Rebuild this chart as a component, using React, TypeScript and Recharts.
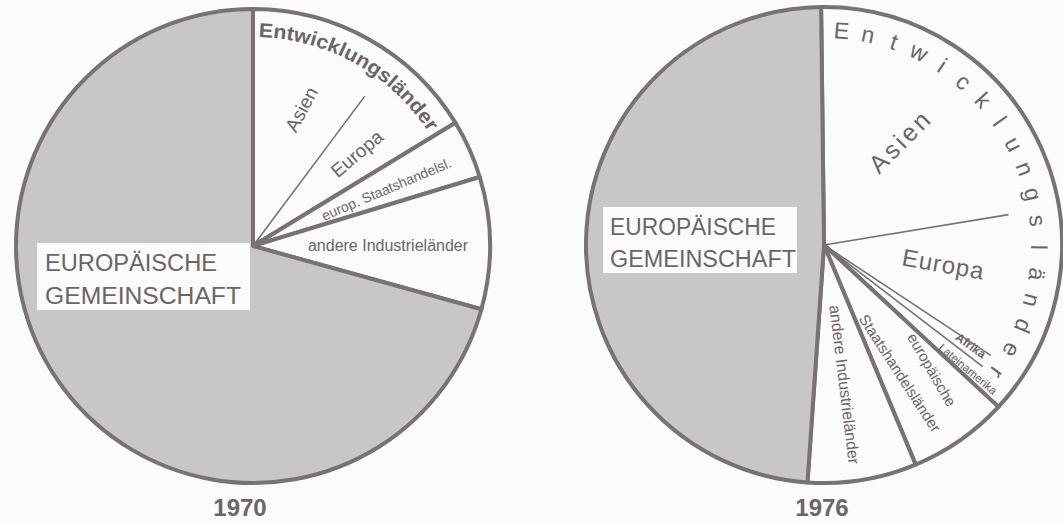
import React from "react";
import { PieChart, Pie, Cell } from "recharts";

// ---------- data ----------
const groupNames = ["Entwicklungsländer", "europ. Staatshandelsländer", "andere Industrieländer", "Europäische Gemeinschaft"];
const groups1970 = [16.3, 4.0, 9.0, 70.7];
const groups1976 = [37.1, 6.8, 7.4, 48.7];

const subNames1970 = ["Asien", "Europa", "übrige"];
const sub1970 = [10.2, 6.1, 83.7];
const subNames1976 = ["Asien", "Europa", "Afrika", "Lateinamerika", "übrige"];
const sub1976 = [22.6, 11.9, 1.1, 1.5, 62.9];

const years = ["1970", "1976"];
const egLabel = ["EUROPÄISCHE", "GEMEINSCHAFT"];
const entwLabel = "Entwicklungsländer";
const staatLabel1970 = ["europ. Staatshandelsl."];
const staatLabel1976 = ["europäische", "Staatshandelsländer"];
const andereLabel = "andere Industrieländer";

// ---------- styles ----------
const INK = "#6b6565";
const LINE = "#787272";
const GRAY = "#c8c7c5";
const PAPER = "#fbfbfb";
const FONT = "'Liberation Sans', Arial, sans-serif";
const RAD = Math.PI / 180;
const pt = (cx: number, cy: number, r: number, a: number) => [cx + r * Math.cos(a * RAD), cy - r * Math.sin(a * RAD)];

const toData = (names: string[], vals: number[]) => names.map((name, i) => ({ name, value: vals[i] }));
const data1970 = toData(groupNames, groups1970);
const data1976 = toData(groupNames, groups1976);
const subData1970 = toData(subNames1970, sub1970);
const subData1976 = toData(subNames1976, sub1976);
const groupFills = [PAPER, PAPER, PAPER, GRAY];

function RText({ x, y, rot, size, weight = 400, spacing = 0, children }: any) {
  return (
    <text
      x={x}
      y={y}
      transform={`rotate(${rot} ${x} ${y})`}
      textAnchor="middle"
      dominantBaseline="central"
      fontSize={size}
      fontWeight={weight}
      letterSpacing={spacing}
      fill={INK}
      fontFamily={FONT}
    >
      {children}
    </text>
  );
}

function EGBox({ cx, cy, box, base1, base2, textX, w1, w2, year, yearDx, yearDy }: any) {
  return (
    <g>
      <rect x={cx + box[0]} y={cy + box[1]} width={box[2]} height={box[3]} fill={PAPER} />
      <text x={cx + textX} y={cy + base1} fontSize={23} fill={INK} fontFamily={FONT} textLength={w1} lengthAdjust="spacingAndGlyphs">
        {egLabel[0]}
      </text>
      <text x={cx + textX} y={cy + base2} fontSize={23} fill={INK} fontFamily={FONT} textLength={w2} lengthAdjust="spacingAndGlyphs">
        {egLabel[1]}
      </text>
      <text x={cx + yearDx} y={cy + yearDy} textAnchor="middle" fontSize={24} fontWeight={700} fill={INK} fontFamily={FONT}>
        {year}
      </text>
    </g>
  );
}

// ---------- 1970 labels ----------
const main1970Label = (p: any) => {
  const { cx, cy, midAngle, startAngle, endAngle, index } = p;
  if (index === 0) {
    const r = 209;
    const a0 = startAngle - 1.5;
    const a1 = endAngle + 1.7;
    const [x0, y0] = pt(cx, cy, r, a0);
    const [x1, y1] = pt(cx, cy, r, a1);
    const len = r * (a0 - a1) * RAD;
    return (
      <g>
        <defs>
          <path id="entw1970" d={`M ${x0} ${y0} A ${r} ${r} 0 0 1 ${x1} ${y1}`} fill="none" />
        </defs>
        <text fontSize={20} fontWeight={700} fill={INK} fontFamily={FONT}>
          <textPath href="#entw1970" textLength={len} lengthAdjust="spacingAndGlyphs">
            {entwLabel}
          </textPath>
        </text>
      </g>
    );
  }
  if (index === 1) {
    const [x, y] = pt(cx, cy, 145, midAngle - 1);
    return <RText x={x} y={y} rot={-23} size={14}>{staatLabel1970[0]}</RText>;
  }
  if (index === 2) {
    const [x, y] = pt(cx, cy, 135, midAngle - 0.7);
    return <RText x={x} y={y} rot={0} size={16}>{andereLabel}</RText>;
  }
  return (
    <EGBox cx={cx} cy={cy} box={[-216, -3, 213, 67]} base1={25} base2={58} textX={-208} w1={172} w2={196}
      year={years[0]} yearDx={-13} yearDy={270} />
  );
};

const sub1970Style: any = {
  Asien: { r: 145, da: -1.2, rot: -62, size: 19 },
  Europa: { r: 139, da: -0.7, rot: -40, size: 19, line: 187 },
};

const makeSubLabel = (styles: any) => (p: any) => {
  const { cx, cy, midAngle, startAngle, name } = p;
  const s = styles[name];
  if (!s) return <g />;
  const [x, y] = pt(cx, cy, s.r, midAngle + s.da);
  let line = null;
  if (s.line) {
    const [lx, ly] = pt(cx, cy, s.line, startAngle);
    line = <line x1={cx} y1={cy} x2={lx} y2={ly} stroke={LINE} strokeWidth={1.6} />;
  }
  return (
    <g>
      {line}
      <RText x={x} y={y} rot={s.rot} size={s.size} weight={s.weight || 400} spacing={s.spacing || 0}>
        {name}
      </RText>
    </g>
  );
};

// ---------- 1976 labels ----------
const main1976Label = (p: any) => {
  const { cx, cy, midAngle, startAngle, endAngle, index } = p;
  if (index === 0) {
    const r = 215;
    const a0 = startAngle - 5.4;
    const a1 = endAngle + 6.4;
    const letters = entwLabel.split("");
    const step = (a0 - a1) / (letters.length - 1);
    return (
      <g>
        {letters.map((ch, i) => {
          const a = a0 - i * step;
          const [x, y] = pt(cx, cy, r, a);
          return (
            <RText key={i} x={x} y={y} rot={90 - a} size={23}>
              {ch}
            </RText>
          );
        })}
      </g>
    );
  }
  if (index === 1) {
    const [x1, y1] = pt(cx, cy, 165, midAngle + 6.0);
    const [x2, y2] = pt(cx, cy, 149, midAngle - 4.2);
    return (
      <g>
        <RText x={x1} y={y1} rot={60} size={15}>{staatLabel1976[0]}</RText>
        <RText x={x2} y={y2} rot={57} size={15}>{staatLabel1976[1]}</RText>
      </g>
    );
  }
  if (index === 2) {
    const [x, y] = pt(cx, cy, 141, midAngle - 1);
    return <RText x={x} y={y} rot={83} size={16}>{andereLabel}</RText>;
  }
  return (
    <EGBox cx={cx} cy={cy} box={[-221, -38, 194, 66]} base1={-10} base2={22} textX={-214} w1={166} w2={186}
      year={years[1]} yearDx={-2} yearDy={271} />
  );
};

const sub1976Style: any = {
  Asien: { r: 129, da: 3.8, rot: -45, size: 25, spacing: 3 },
  Europa: { r: 121, da: 3, rot: 10, size: 24, spacing: 1, line: 187 },
  Afrika: { r: 178, da: 1, rot: 36, size: 12, weight: 700, line: 200 },
  Lateinamerika: { r: 190, da: -0.6, rot: 40, size: 11.5, line: 200 },
};

export default function App() {
  return (
    <div style={{ position: "absolute", left: 0, top: 0, width: 1063, height: 523, background: PAPER }}>
      <PieChart width={1063} height={523} margin={{ top: 0, right: 0, bottom: 0, left: 0 }}>
        <Pie
          data={data1970}
          dataKey="value"
          nameKey="name"
          cx={253}
          cy={246}
          outerRadius={237}
          startAngle={90}
          endAngle={-270}
          stroke={LINE}
          strokeWidth={4}
          strokeLinejoin="round"
          isAnimationActive={false}
          label={main1970Label}
          labelLine={false}
        >
          {data1970.map((d, i) => (
            <Cell key={d.name} fill={groupFills[i]} />
          ))}
        </Pie>
        <Pie
          data={subData1970}
          dataKey="value"
          nameKey="name"
          cx={253}
          cy={246}
          outerRadius={237}
          startAngle={90}
          endAngle={-270}
          fill="transparent"
          stroke="none"
          isAnimationActive={false}
          label={makeSubLabel(sub1970Style)}
          labelLine={false}
        />
        <Pie
          data={data1976}
          dataKey="value"
          nameKey="name"
          cx={824}
          cy={245}
          outerRadius={238}
          startAngle={90.7}
          endAngle={-269.3}
          stroke={LINE}
          strokeWidth={4}
          strokeLinejoin="round"
          isAnimationActive={false}
          label={main1976Label}
          labelLine={false}
        >
          {data1976.map((d, i) => (
            <Cell key={d.name} fill={groupFills[i]} />
          ))}
        </Pie>
        <Pie
          data={subData1976}
          dataKey="value"
          nameKey="name"
          cx={824}
          cy={245}
          outerRadius={238}
          startAngle={90.7}
          endAngle={-269.3}
          fill="transparent"
          stroke="none"
          isAnimationActive={false}
          label={makeSubLabel(sub1976Style)}
          labelLine={false}
        />
      </PieChart>
    </div>
  );
}
